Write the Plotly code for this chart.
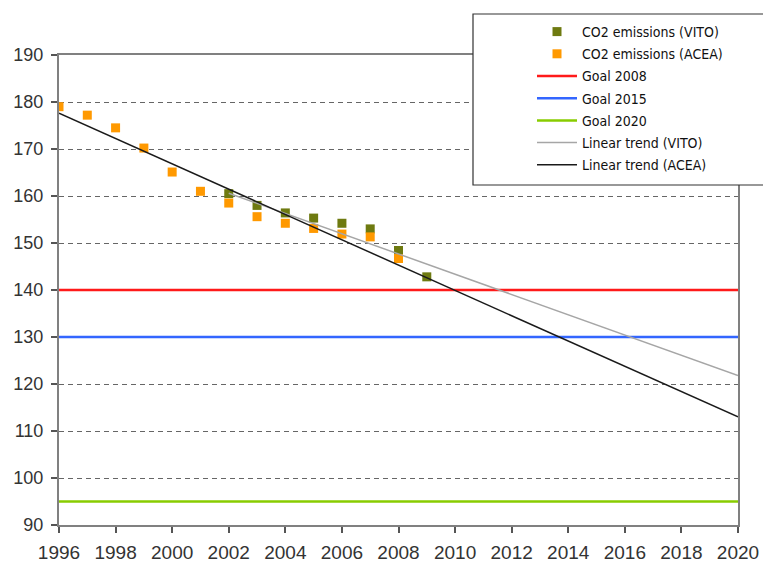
import plotly.graph_objects as go

# ---- data ----
years_vito = [2002, 2003, 2004, 2005, 2006, 2007, 2008, 2009]
co2_vito = [160.5, 158.0, 156.4, 155.3, 154.2, 153.0, 148.4, 142.8]

years_acea = [1996, 1997, 1998, 1999, 2000, 2001, 2002, 2003, 2004, 2005, 2006, 2007, 2008]
co2_acea = [179.0, 177.2, 174.5, 170.2, 165.1, 161.0, 158.5, 155.6, 154.2, 153.1, 151.9, 151.3, 146.7]

goal_years = [1996, 2020]
goal_2008 = [140, 140]
goal_2015 = [130, 130]
goal_2020 = [95, 95]

trend_vito_years = [2002, 2020]
trend_vito_vals = [160.6, 121.8]
trend_acea_years = [1996, 2020]
trend_acea_vals = [177.6, 113.0]

x_ticks = list(range(1996, 2021, 2))
y_ticks = list(range(90, 191, 10))

W, H = 771, 567
OFF = 8  # page body margin
L, T = 59 - OFF, 55 - OFF
PW, PH = 679, 470
R = W - L - PW
B = H - T - PH

fig = go.Figure()

fig.add_trace(go.Scatter(x=years_vito, y=co2_vito, mode="markers", name="CO2 emissions (VITO)",
                         marker=dict(symbol="square", size=9, color="#6e7a10"), legendgroup="a"))
fig.add_trace(go.Scatter(x=years_acea, y=co2_acea, mode="markers", name="CO2 emissions (ACEA)",
                         marker=dict(symbol="square", size=9, color="#ff9900"), legendgroup="b"))
fig.add_trace(go.Scatter(x=goal_years, y=goal_2008, mode="lines", name="Goal 2008",
                         line=dict(color="#ff1a1a", width=2.5), legendgroup="c"))
fig.add_trace(go.Scatter(x=goal_years, y=goal_2015, mode="lines", name="Goal 2015",
                         line=dict(color="#3366ff", width=2.5), legendgroup="d"))
fig.add_trace(go.Scatter(x=goal_years, y=goal_2020, mode="lines", name="Goal 2020",
                         line=dict(color="#88cc00", width=2.5), legendgroup="e"))
fig.add_trace(go.Scatter(x=trend_vito_years, y=trend_vito_vals, mode="lines", name="Linear trend (VITO)",
                         line=dict(color="#a6a6a6", width=1.5), legendgroup="f"))
fig.add_trace(go.Scatter(x=trend_acea_years, y=trend_acea_vals, mode="lines", name="Linear trend (ACEA)",
                         line=dict(color="#1a1a1a", width=1.5), legendgroup="g"))

# helpers converting reference-picture pixels to paper coordinates
def px_x(p):
    return (p - OFF - L) / PW
def px_y(p):
    return (H - B - (p - OFF)) / PH

fig.add_shape(type="rect", xref="paper", yref="paper",
              x0=px_x(473), x1=px_x(769), y0=px_y(185), y1=px_y(14),
              line=dict(color="#333333", width=1.2), fillcolor="white", layer="above")

fig.update_layout(
    width=W, height=H,
    margin=dict(l=L, r=R, t=T, b=B, autoexpand=False),
    paper_bgcolor="white", plot_bgcolor="white",
    font=dict(family="Liberation Sans", color="#333333"),
    showlegend=True,
    legend=dict(x=px_x(532), y=px_y(16), xanchor="left", yanchor="top",
                bgcolor="rgba(0,0,0,0)", borderwidth=0,
                font=dict(family="DejaVu Sans Condensed", size=14, color="#111111"),
                traceorder="grouped", tracegroupgap=1, itemwidth=40),
    xaxis=dict(range=[1996, 2020], tickvals=x_ticks, ticktext=[str(v) for v in x_ticks],
               showgrid=False, zeroline=False, showline=True, linecolor="#808080", linewidth=2,
               mirror=True, ticks="outside", ticklen=6, tickcolor="#555555", tickwidth=1.5,
               ticklabelstandoff=3,
               tickfont=dict(size=19, color="#333333", family="Liberation Sans")),
    yaxis=dict(range=[90, 190], tickvals=y_ticks, showgrid=True, gridcolor="#666666",
               griddash="5px,4px", gridwidth=1.3, zeroline=False, showline=True,
               linecolor="#808080", linewidth=2, mirror=True, ticks="outside", ticklen=6,
               tickcolor="#555555", tickwidth=1.5, ticklabelstandoff=4,
               tickfont=dict(size=18, color="#333333", family="Liberation Sans")),
)

fig.write_html("out.html")
